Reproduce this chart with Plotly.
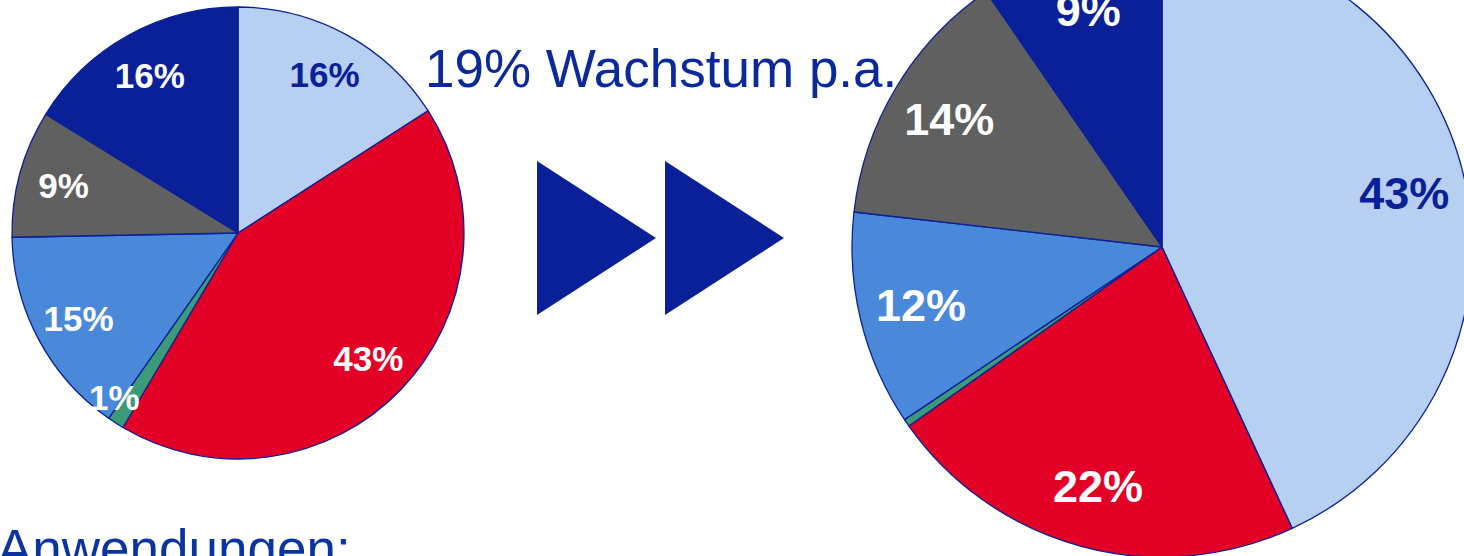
import plotly.graph_objects as go

# slice order: clockwise from 12 o'clock
segments = ['hellblau', 'rot', 'gruen', 'mittelblau', 'grau', 'dunkelblau']
colors = ['#b7cff0', '#e30026', '#3b9a78', '#4a88da', '#606060', '#0a2098']

values_before = [15.9, 42.6, 1.2, 15.0, 9.1, 16.2]
labels_before = ['16%', '43%', '', '15%', '9%', '16%']
small_label_before = '1%'

values_after = [43.1, 22.1, 0.4, 11.2, 13.6, 9.6]
labels_after = ['43%', '22%', '', '12%', '14%', '9%']

growth_text = '19% Wachstum p.a.'
footer_text = 'Anwendungen:'

DARK = '#0a2098'
TEXT_BLUE = '#0a2a9c'
FONT = 'Arial, Liberation Sans'

# figure is a bit taller than the window; it gets shifted up so the big pie is cut at the top
W, H = 1472, 620
SHIFT = 63


def px(sx, sy):
    """screen pixel -> paper coords"""
    return sx / W, 1 - (sy + SHIFT) / H


label_colors = [DARK, 'white', 'white', 'white', 'white', 'white']


def add_pie(fig, values, labels, domain, size):
    # the filled pie with outlines
    fig.add_trace(go.Pie(
        labels=segments, values=values, textinfo='none',
        sort=False, direction='clockwise', rotation=0,
        marker=dict(colors=colors, line=dict(color=DARK, width=1.3)),
        domain=domain, hoverinfo='skip', showlegend=False,
    ))
    # transparent ring on top, only carries the labels (puts them out near the rim)
    fig.add_trace(go.Pie(
        labels=segments, values=values, text=labels, hole=0.6,
        textinfo='text', texttemplate='<b>%{text}</b>',
        textposition='inside', insidetextorientation='horizontal',
        sort=False, direction='clockwise', rotation=0,
        marker=dict(colors=['rgba(0,0,0,0)'] * len(values), line=dict(width=0)),
        textfont=dict(family=FONT, size=size, color=label_colors),
        domain=domain, hoverinfo='skip', showlegend=False,
    ))


fig = go.Figure()

x0, y1 = px(12, 7)
x1, y0 = px(464, 459)
add_pie(fig, values_before, labels_before, dict(x=[x0, x1], y=[y0, y1]), 35)
add_pie(fig, values_after, labels_after, dict(x=[852 / W, 1], y=[0, 1]), 45)

# fast-forward arrows
shapes = []
for left in (537, 665):
    ax, ay = px(left, 161)
    bx, by = px(left, 315)
    cx, cy = px(left + 119, 238)
    shapes.append(dict(type='path', xref='paper', yref='paper',
                       path=f'M {ax},{ay} L {cx},{cy} L {bx},{by} Z',
                       fillcolor=DARK, line=dict(width=0)))

gx, gy = px(423, 68)
fx, fy = px(-5, 548)
sx, sy = px(114, 397)
fig.update_layout(
    width=W, height=H,
    margin=dict(l=0, r=0, t=0, b=0),
    paper_bgcolor='white', plot_bgcolor='white',
    font=dict(family=FONT),
    shapes=shapes,
    annotations=[
        dict(text=growth_text, x=gx, y=gy, xref='paper', yref='paper',
             xanchor='left', yanchor='middle', showarrow=False,
             font=dict(size=53, color=TEXT_BLUE)),
        dict(text=footer_text, x=fx, y=fy, xref='paper', yref='paper',
             xanchor='left', yanchor='middle', showarrow=False,
             font=dict(size=53, color='#0a35a0')),
        dict(text=f'<b>{small_label_before}</b>', x=sx, y=sy, xref='paper', yref='paper',
             xanchor='center', yanchor='middle', showarrow=False,
             font=dict(size=35, color='white')),
    ],
)

fig.write_html(
    "out.html",
    config={'displayModeBar': False},
    post_script=("document.body.style.margin='0';"
                 "document.body.style.overflow='hidden';"
                 "document.getElementById('{plot_id}').style.marginTop='-%dpx';" % SHIFT),
)
